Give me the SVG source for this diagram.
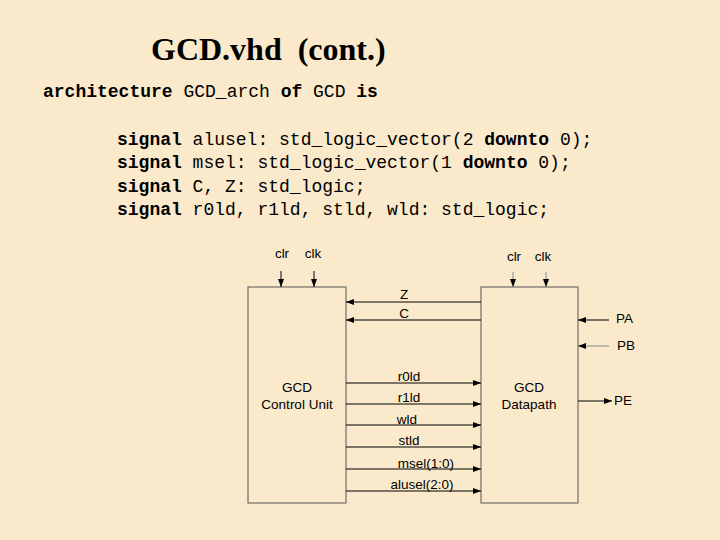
<svg xmlns="http://www.w3.org/2000/svg" width="720" height="540" viewBox="0 0 720 540">
<defs>
<style>
.title{font-family:"Liberation Serif","Times New Roman",serif;font-weight:bold;font-size:32px;fill:#000}
.code{font-family:"Liberation Mono","Courier New",monospace;font-size:18px;fill:#000}
.kw{font-weight:bold}
.lbl{font-family:"Liberation Sans",Arial,sans-serif;font-size:13.5px;fill:#000}
.box{fill:none;stroke:#555;stroke-width:1}
.wire{stroke:#000;stroke-width:1;fill:none}
.wire2{stroke:#888;stroke-width:1;fill:none}
</style>
<marker id="ah" markerWidth="8" markerHeight="6" refX="8" refY="3" orient="auto" markerUnits="userSpaceOnUse">
<path d="M0,0 L8,3 L0,6 Z" fill="#000"/>
</marker>
</defs>
<rect width="720" height="540" fill="#FAEACB"/>
<text class="title" x="151" y="60" xml:space="preserve">GCD.vhd  (cont.)</text>
<g id="code">
<text class="code" x="43" y="97" xml:space="preserve"><tspan class="kw">architecture</tspan> GCD_arch <tspan class="kw">of</tspan> GCD <tspan class="kw">is</tspan></text>
<text class="code" x="117" y="145" xml:space="preserve"><tspan class="kw">signal</tspan> alusel: std_logic_vector(2 <tspan class="kw">downto</tspan> 0);</text>
<text class="code" x="117" y="168" xml:space="preserve"><tspan class="kw">signal</tspan> msel: std_logic_vector(1 <tspan class="kw">downto</tspan> 0);</text>
<text class="code" x="117" y="192" xml:space="preserve"><tspan class="kw">signal</tspan> C, Z: std_logic;</text>
<text class="code" x="117" y="215" xml:space="preserve"><tspan class="kw">signal</tspan> r0ld, r1ld, stld, wld: std_logic;</text>
</g>
<g id="control-unit">
<rect class="box" x="248" y="287" width="98" height="216"/>
<text class="lbl" x="297" y="392" text-anchor="middle">GCD</text>
<text class="lbl" x="297" y="409" text-anchor="middle">Control Unit</text>
<text class="lbl" x="282" y="258" text-anchor="middle">clr</text>
<text class="lbl" x="313" y="258" text-anchor="middle">clk</text>
</g>
<g id="datapath">
<rect class="box" x="481" y="287" width="97" height="216"/>
<text class="lbl" x="529" y="392" text-anchor="middle">GCD</text>
<text class="lbl" x="529" y="409" text-anchor="middle">Datapath</text>
<text class="lbl" x="514" y="261" text-anchor="middle">clr</text>
<text class="lbl" x="543" y="261" text-anchor="middle">clk</text>
</g>
<g id="ports">
<text class="lbl" x="616" y="323">PA</text>
<text class="lbl" x="617" y="350">PB</text>
<text class="lbl" x="614" y="405">PE</text>
</g>
<g id="connectors">
<line class="wire" x1="281" y1="271" x2="281" y2="287" marker-end="url(#ah)"/>
<line class="wire" x1="314" y1="271" x2="314" y2="287" marker-end="url(#ah)"/>
<line class="wire2" x1="513" y1="272" x2="513" y2="287" marker-end="url(#ah)"/>
<line class="wire2" x1="546" y1="272" x2="546" y2="287" marker-end="url(#ah)"/>
<line class="wire" x1="481" y1="302" x2="346" y2="302" marker-end="url(#ah)"/>
<line class="wire" x1="481" y1="320" x2="346" y2="320" marker-end="url(#ah)"/>
<text class="lbl" x="404" y="299" text-anchor="middle">Z</text>
<text class="lbl" x="404" y="318" text-anchor="middle">C</text>
<line class="wire" x1="346" y1="383" x2="481" y2="383" marker-end="url(#ah)"/>
<line class="wire" x1="346" y1="404" x2="481" y2="404" marker-end="url(#ah)"/>
<line class="wire" x1="346" y1="425" x2="481" y2="425" marker-end="url(#ah)"/>
<line class="wire" x1="346" y1="447" x2="481" y2="447" marker-end="url(#ah)"/>
<line class="wire" x1="346" y1="469" x2="481" y2="469" marker-end="url(#ah)"/>
<line class="wire" x1="346" y1="491" x2="481" y2="491" marker-end="url(#ah)"/>
<text class="lbl" x="409" y="381" text-anchor="middle">r0ld</text>
<text class="lbl" x="409" y="402" text-anchor="middle">r1ld</text>
<text class="lbl" x="407" y="424" text-anchor="middle">wld</text>
<text class="lbl" x="409" y="445" text-anchor="middle">stld</text>
<text class="lbl" x="426" y="468" text-anchor="middle">msel(1:0)</text>
<text class="lbl" x="422" y="489" text-anchor="middle">alusel(2:0)</text>
<line class="wire" x1="609" y1="320" x2="578" y2="320" marker-end="url(#ah)"/>
<line class="wire2" x1="609" y1="346" x2="578" y2="346" marker-end="url(#ah)"/>
<line class="wire" x1="578" y1="401" x2="612" y2="401" marker-end="url(#ah)"/>
</g>
</svg>
